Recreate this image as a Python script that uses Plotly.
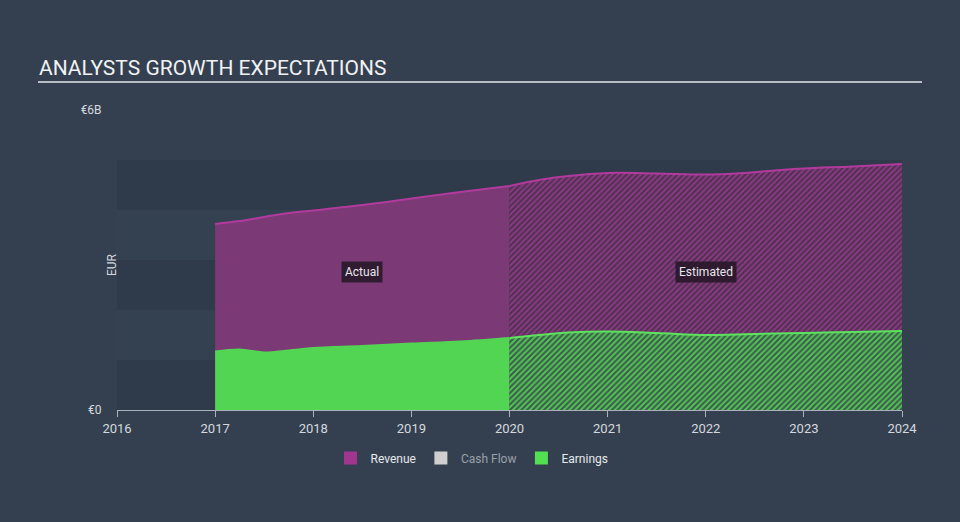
import plotly.graph_objects as go

# Revenue / earnings, EUR billions
years_actual = [2017.0, 2017.25, 2017.5, 2017.75, 2018.0, 2018.5, 2019.0, 2019.5, 2020.0]
revenue_actual = [3.72, 3.78, 3.86, 3.94, 3.99, 4.10, 4.23, 4.36, 4.48]
earnings_actual = [1.17, 1.21, 1.15, 1.19, 1.24, 1.28, 1.33, 1.37, 1.44]

years_est = [2020.0, 2020.3, 2020.6, 2021.0, 2021.5, 2022.0, 2022.3, 2022.7, 2023.0, 2023.5, 2024.0]
revenue_est = [4.48, 4.60, 4.68, 4.74, 4.73, 4.71, 4.73, 4.79, 4.83, 4.87, 4.92]
earnings_est = [1.44, 1.50, 1.55, 1.57, 1.54, 1.50, 1.51, 1.53, 1.54, 1.56, 1.58]

year_ticks = [2016, 2017, 2018, 2019, 2020, 2021, 2022, 2023, 2024]

bg = "#344050"
rev_line = "#b23a9d"
rev_fill = "#7b3a75"
earn_line = "#5de35d"
earn_fill = "#52d552"

fig = go.Figure()

# actual, solid fills
fig.add_trace(go.Scatter(x=years_actual, y=[v * 1e9 for v in revenue_actual], mode="lines",
                         line=dict(color=rev_line, width=2, shape="spline"),
                         fill="tozeroy", fillcolor=rev_fill, showlegend=False, hoverinfo="skip"))
# estimated, hatched fills
fig.add_trace(go.Scatter(x=years_est, y=[v * 1e9 for v in revenue_est], mode="lines",
                         line=dict(color=rev_line, width=2, shape="spline"),
                         fill="tozeroy",
                         fillpattern=dict(shape="/", fgcolor="#8a3a84", bgcolor="#4f3050",
                                          size=4, solidity=0.5, fillmode="replace"),
                         showlegend=False, hoverinfo="skip"))
fig.add_trace(go.Scatter(x=years_actual, y=[v * 1e9 for v in earnings_actual], mode="lines",
                         line=dict(color=earn_fill, width=2, shape="spline"),
                         fill="tozeroy", fillcolor=earn_fill, showlegend=False, hoverinfo="skip"))
fig.add_trace(go.Scatter(x=years_est, y=[v * 1e9 for v in earnings_est], mode="lines",
                         line=dict(color=earn_line, width=2, shape="spline"),
                         fill="tozeroy",
                         fillpattern=dict(shape="/", fgcolor="#52c452", bgcolor="#3d5a50",
                                          size=4, solidity=0.5, fillmode="replace"),
                         showlegend=False, hoverinfo="skip"))

# legend entries
for name, col in [("Revenue", "#a0368f"),
                  ("<span style='color:#9aa1aa'>Cash Flow</span>", "#cfcfcf"),
                  ("Earnings", "#52e052")]:
    fig.add_trace(go.Scatter(x=[None], y=[None], mode="markers", name=name,
                             marker=dict(symbol="square", size=13, color=col)))

# alternating background bands
shapes = []
for i in range(5):
    shapes.append(dict(type="rect", xref="x", yref="y", x0=2016, x1=2024,
                       y0=i * 1e9, y1=(i + 1) * 1e9, layer="below", line_width=0,
                       fillcolor="#2f3b4a" if i % 2 == 0 else "#344150"))
# title underline
shapes.append(dict(type="line", xref="paper", yref="paper",
                   x0=(38 - 117) / 785, x1=(922 - 117) / 785, y0=1.0933, y1=1.0933,
                   line=dict(color="#b8bec6", width=2)))

annotations = [
    dict(text="ANALYSTS GROWTH EXPECTATIONS", xref="paper", yref="paper",
         x=(37 - 117) / 785, y=(410 - 68) / 300, xanchor="left", yanchor="middle",
         showarrow=False, font=dict(size=21, color="#f0f2f4", family="Roboto")),
    dict(text="EUR", xref="paper", yref="paper", x=(103 - 117) / 785, y=0.483,
         textangle=-90, showarrow=False, font=dict(size=12, color="#d5d9de")),
    dict(text="Actual", x=2018.5, y=2.76e9, showarrow=False,
         bgcolor="rgba(35,22,38,0.85)", borderpad=3,
         font=dict(size=12, color="#e8e8ec")),
    dict(text="Estimated", x=2022.0, y=2.76e9, showarrow=False,
         bgcolor="rgba(35,22,38,0.85)", borderpad=3,
         font=dict(size=12, color="#e8e8ec")),
]

fig.update_layout(
    width=960, height=522,
    margin=dict(l=117, r=58, t=110, b=112),
    paper_bgcolor=bg, plot_bgcolor=bg,
    font=dict(family="Roboto", color="#d5d9de", size=12),
    shapes=shapes, annotations=annotations,
    showlegend=True,
    legend=dict(orientation="h", x=(472 - 117) / 785, xanchor="center",
                y=-0.16, yanchor="middle", font=dict(size=12, color="#e6e8eb"),
                bgcolor="rgba(0,0,0,0)"),
    xaxis=dict(range=[2016, 2024], tickvals=year_ticks, showgrid=False, zeroline=False,
               showline=True, linecolor="#aab2bc", linewidth=1,
               ticks="outside", ticklen=6, tickcolor="#aab2bc",
               tickfont=dict(size=13, color="#d5d9de")),
    yaxis=dict(range=[0, 6e9], tickvals=[0, 6e9], ticktext=["€0", "€6B"],
               showgrid=False, zeroline=False, showline=False,
               ticks="outside", ticklen=12, tickcolor="rgba(0,0,0,0)",
               tickfont=dict(size=12, color="#d5d9de")),
)

# drop the default page margin so the figure sits at the window origin
fig.write_html("out.html", config={"displayModeBar": False},
               post_script="document.body.style.margin='0';document.body.style.background='#344050';")
